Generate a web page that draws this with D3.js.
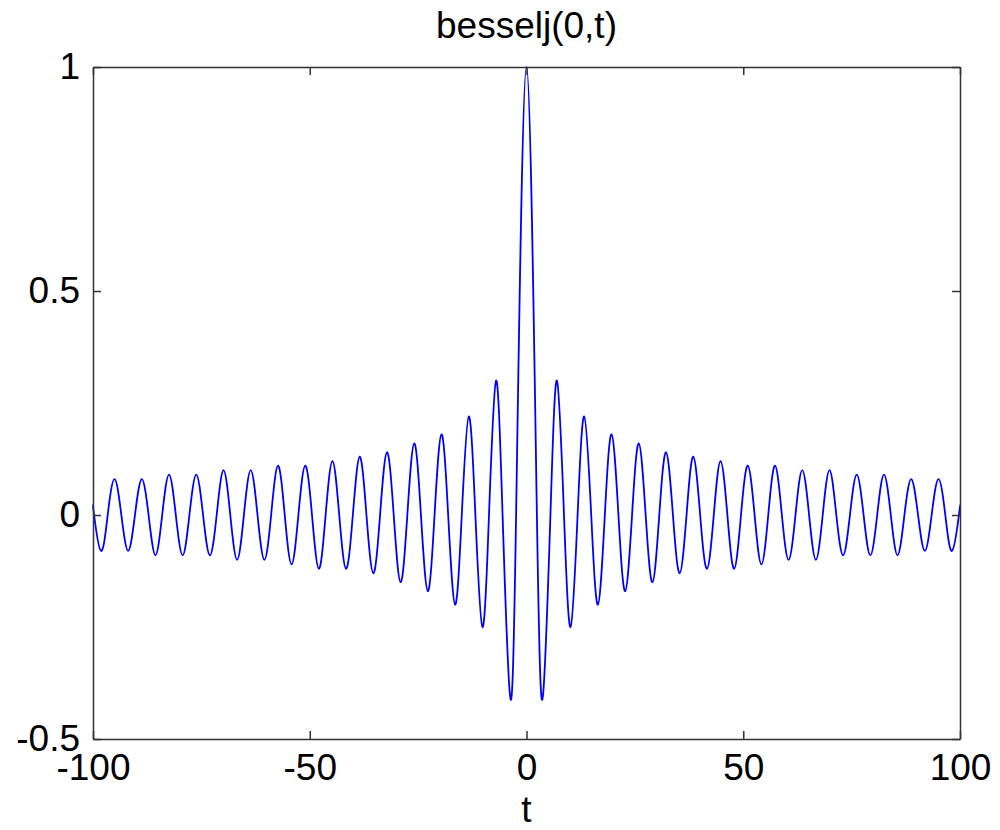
<!DOCTYPE html>
<html>
<head>
<meta charset="utf-8">
<script src="https://cdn.jsdelivr.net/npm/d3@7"></script>
<style>
  body { margin: 0; background: #fff; }
  text { font-family: "Liberation Sans", Arial, sans-serif; fill: #000; }
</style>
</head>
<body>
<div id="chart"></div>
<script>
// besselj(0,t): zero crossings and turning points
const tSamples = [
  -100, -99.75, -98.17, -96.61, -95.03, -93.46, -91.89, -90.32, -88.75, -87.18,
  -85.60, -84.04, -82.46, -80.90, -79.32, -77.76, -76.18, -74.61, -73.04, -71.47,
  -69.90, -68.33, -66.75, -65.19, -63.61, -62.05, -60.47, -58.91, -57.33, -55.77,
  -54.19, -52.62, -51.04, -49.48, -47.90, -46.34, -44.76, -43.20, -41.62, -40.06,
  -38.47, -36.92, -35.33, -33.78, -32.19, -30.63, -29.05, -27.49, -25.90, -24.35,
  -22.76, -21.21, -19.62, -18.07, -16.47, -14.93, -13.32, -11.79, -10.17, -8.65,
  -7.02, -5.52, -3.83, -2.40, 0,
  2.40, 3.83, 5.52, 7.02, 8.65, 10.17, 11.79, 13.32, 14.93, 16.47,
  18.07, 19.62, 21.21, 22.76, 24.35, 25.90, 27.49, 29.05, 30.63, 32.19,
  33.78, 35.33, 36.92, 38.47, 40.06, 41.62, 43.20, 44.76, 46.34, 47.90,
  49.48, 51.04, 52.62, 54.19, 55.77, 57.33, 58.91, 60.47, 62.05, 63.61,
  65.19, 66.75, 68.33, 69.90, 71.47, 73.04, 74.61, 76.18, 77.76, 79.32,
  80.90, 82.46, 84.04, 85.60, 87.18, 88.75, 90.32, 91.89, 93.46, 95.03,
  96.61, 98.17, 99.75, 100
];
const jSamples = [
  0.02, 0, -0.08, 0, 0.08, 0, -0.08, 0, 0.08, 0,
  -0.09, 0, 0.09, 0, -0.09, 0, 0.09, 0, -0.09, 0,
  0.10, 0, -0.10, 0, 0.10, 0, -0.10, 0, 0.11, 0,
  -0.11, 0, 0.11, 0, -0.12, 0, 0.12, 0, -0.12, 0,
  0.13, 0, -0.13, 0, 0.14, 0, -0.15, 0, 0.16, 0,
  -0.17, 0, 0.18, 0, -0.20, 0, 0.22, 0, -0.25, 0,
  0.30, 0, -0.40, 0, 1,
  0, -0.40, 0, 0.30, 0, -0.25, 0, 0.22, 0, -0.20,
  0, 0.18, 0, -0.17, 0, 0.16, 0, -0.15, 0, 0.14,
  0, -0.13, 0, 0.13, 0, -0.12, 0, 0.12, 0, -0.12,
  0, 0.11, 0, -0.11, 0, 0.11, 0, -0.10, 0, 0.10,
  0, -0.10, 0, 0.10, 0, -0.09, 0, 0.09, 0, -0.09,
  0, 0.09, 0, -0.09, 0, 0.08, 0, -0.08, 0, 0.08,
  0, -0.08, 0, 0.02
];
const xTicks = [-100, -50, 0, 50, 100];
const yTicks = [-0.5, 0, 0.5, 1];

const width = 1000, height = 830;
const margin = { top: 67, left: 93, bottom: 91, right: 40 };
const w = width - margin.left - margin.right;
const h = height - margin.top - margin.bottom;

const data = tSamples.map(function (t, i) { return { t: t, v: jSamples[i] }; });

const svg = d3.select('#chart').append('svg')
    .attr('width', width)
    .attr('height', height);

const g = svg.append('g')
    .attr('transform', 'translate(' + margin.left + ',' + margin.top + ')');

const xScale = d3.scaleLinear().domain([-100, 100]).range([0, w]);
const yScale = d3.scaleLinear().domain([-0.5, 1]).range([h, 0]);

// curve
const line = d3.line()
    .x(function (d) { return xScale(d.t); })
    .y(function (d) { return yScale(d.v); })
    .curve(d3.curveNatural);

g.append('path')
    .datum(data)
    .attr('fill', 'none')
    .attr('stroke', '#0000ff')
    .attr('stroke-width', 1.8)
    .attr('d', line);

// plain hyphen minus, like the original labels
const plain = function (d) { return String(d); };

// axes, MATLAB style: inward ticks on all four sides
const tickLen = 8;
function styleAxis(sel) {
    sel.selectAll('path, line').attr('stroke', '#333').attr('stroke-width', 1.5);
    sel.selectAll('text').attr('font-size', 37).attr('fill', '#000');
}

g.append('g')
    .attr('transform', 'translate(0,' + h + ')')
    .call(d3.axisBottom(xScale).tickValues(xTicks).tickSizeInner(-tickLen).tickSizeOuter(0).tickFormat(plain))
    .call(styleAxis)
    .call(function (a) { a.selectAll('text').attr('dy', '0.72em').attr('y', 14); });

g.append('g')
    .call(d3.axisTop(xScale).tickValues(xTicks).tickSizeInner(-tickLen).tickSizeOuter(0).tickFormat(''))
    .call(styleAxis);

g.append('g')
    .call(d3.axisLeft(yScale).tickValues(yTicks).tickSizeInner(-tickLen).tickSizeOuter(0).tickPadding(13).tickFormat(plain))
    .call(styleAxis);

g.append('g')
    .attr('transform', 'translate(' + w + ',0)')
    .call(d3.axisRight(yScale).tickValues(yTicks).tickSizeInner(-tickLen).tickSizeOuter(0).tickFormat(''))
    .call(styleAxis);

// title and x label
svg.append('text')
    .attr('x', margin.left + w / 2)
    .attr('y', 38)
    .attr('text-anchor', 'middle')
    .attr('font-size', 37)
    .text('besselj(0,t)');

svg.append('text')
    .attr('x', margin.left + w / 2)
    .attr('y', 822)
    .attr('text-anchor', 'middle')
    .attr('font-size', 37)
    .text('t');
</script>
</body>
</html>
